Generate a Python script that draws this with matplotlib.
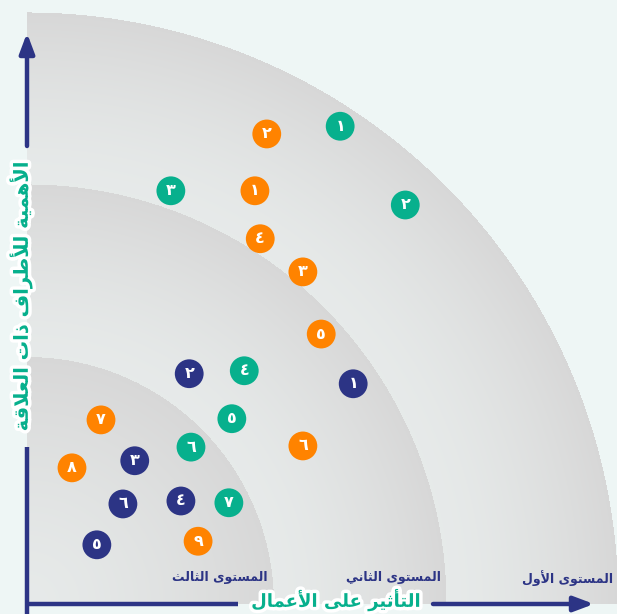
import numpy as np
import matplotlib.pyplot as plt
import matplotlib.patheffects as pe

# ---- data ----
level_names = ['المستوى الثالث', 'المستوى الثاني', 'المستوى الأول']
level_radius = [41.7, 70.9, 100.0]

x_title = 'التأثير على الأعمال'
y_title = 'الأهمية للأطراف ذات العلاقة'

digits = ['١', '٢', '٣', '٤', '٥', '٦', '٧', '٨', '٩']

green_x = [52.9, 63.9, 24.3, 36.7, 34.6, 27.7, 34.1]
green_y = [80.7, 67.4, 69.8, 39.4, 31.3, 26.5, 17.1]

orange_x = [38.5, 40.5, 46.6, 39.4, 49.7, 46.6, 12.5, 7.6, 28.9]
orange_y = [69.8, 79.4, 56.1, 61.7, 45.6, 26.7, 31.1, 23.0, 10.6]

navy_x = [55.1, 27.4, 18.2, 26.0, 11.8, 16.2]
navy_y = [37.2, 38.9, 24.2, 17.4, 10.0, 16.9]

GREEN = '#07b08d'
ORANGE = '#ff8300'
NAVY = '#2c3485'
BG = '#eef6f5'

# ---- tiny arabic shaper (matplotlib has no text shaping) ----
DUAL = {
    'ت': 'ﺕﺖﺗﺘ', 'ث': 'ﺙﺚﺛﺜ', 'س': 'ﺱﺲﺳﺴ', 'ط': 'ﻁﻂﻃﻄ',
    'ع': 'ﻉﻊﻋﻌ', 'ف': 'ﻑﻒﻓﻔ', 'ق': 'ﻕﻖﻗﻘ', 'ل': 'ﻝﻞﻟﻠ',
    'م': 'ﻡﻢﻣﻤ', 'ن': 'ﻥﻦﻧﻨ', 'ه': 'ﻩﻪﻫﻬ', 'ي': 'ﻱﻲﻳﻴ',
}
RIGHT = {
    'ا': 'ﺍﺎ', 'أ': 'ﺃﺄ', 'ة': 'ﺓﺔ', 'ذ': 'ﺫﺬ', 'ر': 'ﺭﺮ',
    'و': 'ﻭﻮ', 'ى': 'ﻯﻰ',
}
LAMALEF = {'ا': 'ﻻﻼ', 'أ': 'ﻷﻸ'}


def shape(text):
    tokens = []
    i = 0
    while i < len(text):
        c = text[i]
        if c == 'ل' and i + 1 < len(text) and text[i + 1] in LAMALEF:
            tokens.append(LAMALEF[text[i + 1]])
            i += 2
            continue
        tokens.append(DUAL.get(c) or RIGHT.get(c) or c)
        i += 1
    out = []
    for k, t in enumerate(tokens):
        if len(t) == 1:
            out.append(t)
            continue
        prev = tokens[k - 1] if k > 0 else ''
        nxt = tokens[k + 1] if k + 1 < len(tokens) else ''
        jp = len(prev) == 4
        jn = len(t) == 4 and len(nxt) > 1
        if jp and jn:
            out.append(t[3])
        elif jp:
            out.append(t[1])
        elif jn:
            out.append(t[2])
        else:
            out.append(t[0])
    return ''.join(reversed(out))


# pixel -> data helper for layout (origin of the arcs at px (27, 604), 5.92 px per unit)
S = 5.92
def px(x, y):
    return (x - 27) / S, (604 - y) / S


fig = plt.figure(figsize=(6.17, 6.14), dpi=100, facecolor=BG)
ax = fig.add_axes([0, 0, 1, 1])
ax.set_facecolor(BG)
x0, y1 = px(0, 0)
x1, y0 = px(617, 614)
ax.set_xlim(x0, x1)
ax.set_ylim(y0, y1)
ax.axis('off')

# ---- gradient bands ----
gx = np.linspace(x0, x1, 617)
gy = np.linspace(y0, y1, 614)
XX, YY = np.meshgrid(gx, gy)
R = np.hypot(XX, YY)
light = np.array([0.905, 0.918, 0.916])
dark = np.array([0.845, 0.845, 0.845])
t = np.zeros_like(R)
inner = 0.0
for r in level_radius:
    m = (R >= inner) & (R < r)
    t[m] = ((R[m] - inner) / (r - inner)) ** 1.4
    inner = r
img = light + (dark - light) * t[..., None]
alpha = ((R < level_radius[-1]) & (XX >= 0) & (YY >= 0)).astype(float)
rgba = np.dstack([img, alpha])
ax.imshow(rgba, extent=(x0, x1, y0, y1), origin='lower', interpolation='bilinear',
          zorder=0, aspect='auto')

# ---- axes arrows ----
lw = 3.2
ax.plot([0, 0], [y0, px(0, 447)[1]], color=NAVY, lw=lw, solid_capstyle='butt', zorder=2)
ax.annotate('', xy=px(27, 33), xytext=px(27, 146),
            arrowprops=dict(arrowstyle='-|>,head_length=1.2,head_width=0.45',
                            color=NAVY, lw=lw, shrinkA=0, shrinkB=0), zorder=2)
ax.plot([px(25, 0)[0], px(238, 0)[0]], [0, 0], color=NAVY, lw=lw,
        solid_capstyle='butt', zorder=2)
ax.annotate('', xy=px(594, 604), xytext=px(433, 604),
            arrowprops=dict(arrowstyle='-|>,head_length=1.2,head_width=0.45',
                            color=NAVY, lw=lw, shrinkA=0, shrinkB=0), zorder=2)

stroke = [pe.withStroke(linewidth=5, foreground='white')]
ax.text(*px(21, 296), shape(y_title), rotation=90, ha='center', va='center',
        fontsize=14, fontweight='bold', color=GREEN, path_effects=stroke, zorder=3)
ax.text(*px(336, 600), shape(x_title), ha='center', va='center',
        fontsize=13, fontweight='bold', color=GREEN, path_effects=stroke, zorder=3)

# level labels, right aligned just inside each arc
for name, r in zip(level_names, level_radius):
    ax.text(r - 1.0, px(0, 578)[1], shape(name), ha='right', va='center',
            fontsize=9, fontweight='bold', color=NAVY, zorder=3)

# ---- stakeholders ----
for xs, ys, col in [(green_x, green_y, GREEN), (orange_x, orange_y, ORANGE),
                    (navy_x, navy_y, NAVY)]:
    ax.scatter(xs, ys, s=430, color=col, edgecolors='none', zorder=4)
    for k, (x, y) in enumerate(zip(xs, ys)):
        ax.text(x, y, digits[k], ha='center', va='center', fontsize=11.5,
                fontweight='bold', color='white', zorder=5)

fig.savefig('out.png', dpi=100, facecolor=BG)
